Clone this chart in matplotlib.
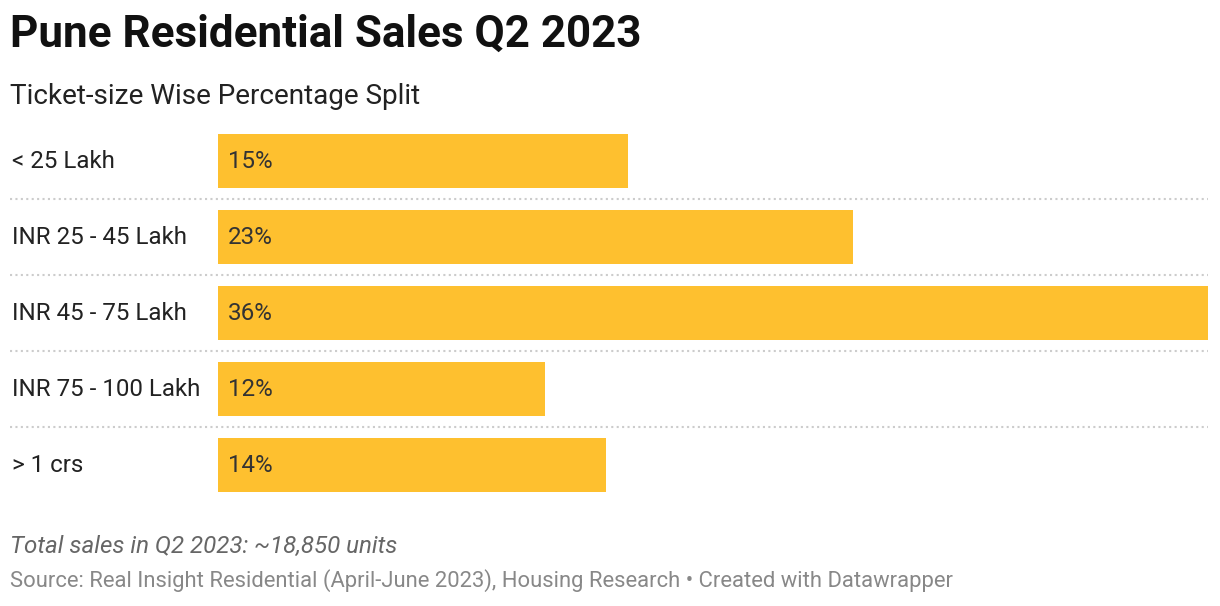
import matplotlib.pyplot as plt

# data
categories = ["< 25 Lakh", "INR 25 - 45 Lakh", "INR 45 - 75 Lakh", "INR 75 - 100 Lakh", "> 1 crs"]
shares = [14.9, 23.1, 36.0, 11.9, 14.1]
value_labels = ["15%", "23%", "36%", "12%", "14%"]

plt.rcParams['font.family'] = ['Roboto', 'DejaVu Sans']

W, H = 1220, 606
fig = plt.figure(figsize=(W / 100, H / 100), dpi=100)

# axes placed in pixels: bars from x=218 to 1208, rows from y=123 to 503
ax = fig.add_axes([218 / W, 1 - 503 / H, 990 / W, 380 / H])
ax.set_xlim(0, 36)
ax.set_ylim(len(categories) - 0.5, -0.5)
ax.axis("off")

ypos = list(range(len(categories)))
ax.barh(ypos, shares, height=54 / 76, color="#fec02f")

for y, cat, lab in zip(ypos, categories, value_labels):
    ax.text(-0.208, y, cat, transform=ax.get_yaxis_transform(), ha="left", va="center",
            fontsize=17.4, color="#222222")
    ax.text(0.35, y, lab, ha="left", va="center", fontsize=17.4, color="#333333")

# dotted separators between rows
for y in ypos[:-1]:
    ax.axhline(y + 0.5, xmin=-0.21, xmax=1, clip_on=False, color="#cccccc",
               linewidth=1.5, linestyle=(0, (1, 1.6)))

fig.text(10 / W, 1 - 35 / H, "Pune Residential Sales Q2 2023", ha="left", va="center",
         fontsize=31.7, fontweight="bold", color="#111111")
fig.text(10 / W, 1 - 97 / H, "Ticket-size Wise Percentage Split", ha="left", va="center",
         fontsize=20.1, color="#222222")
fig.text(10 / W, 1 - 546 / H, "Total sales in Q2 2023: ~18,850 units", ha="left", va="center",
         fontsize=17.4, style="italic", color="#666666")
fig.text(10 / W, 1 - 581 / H,
         "Source: Real Insight Residential (April-June 2023), Housing Research \u2022 Created with Datawrapper",
         ha="left", va="center", fontsize=15.8, color="#888888")

fig.savefig("out.png", dpi=100)
